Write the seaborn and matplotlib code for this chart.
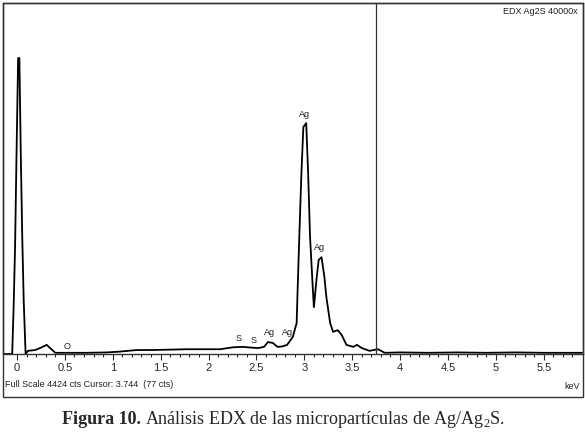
import pandas as pd
import seaborn as sns
import matplotlib.pyplot as plt
from matplotlib.patches import Rectangle

# EDX spectrum (keV, counts)
energy = [-0.14, -0.06, -0.05, -0.035, -0.02, -0.005, 0.012, 0.025, 0.04, 0.055,
          0.07, 0.09, 0.115, 0.19, 0.25, 0.31, 0.36, 0.40, 0.52, 0.73, 0.94,
          1.07, 1.25, 1.42, 1.6, 1.77, 1.95, 2.12, 2.26, 2.36, 2.45, 2.52, 2.58,
          2.62, 2.67, 2.72, 2.77, 2.82, 2.88, 2.92, 2.93, 2.95, 2.97, 2.99, 3.02,
          3.04, 3.06, 3.09, 3.10, 3.13, 3.15, 3.18, 3.21, 3.23, 3.27, 3.30, 3.35,
          3.39, 3.44, 3.51, 3.55, 3.60, 3.68, 3.77, 3.84, 4.0, 4.3, 4.6, 4.9,
          5.2, 5.5, 5.9]
counts = [0, 0, 0, 590, 1350, 2500, 3730, 3730, 2500, 1475,
          680, 0, 40, 50, 80, 115, 60, 15, 15, 15, 20,
          30, 50, 50, 55, 60, 60, 60, 85, 90, 80, 75, 90,
          150, 140, 90, 95, 115, 215, 390, 800, 1560, 2280, 2860, 2910,
          2280, 1475, 800, 590, 970, 1185, 1220, 970, 720, 390, 280, 300,
          240, 115, 90, 115, 75, 40, 60, 15, 20, 15, 20, 15,
          20, 15, 15]

peak_labels = ['O', 'S', 'S', 'Ag', 'Ag', 'Ag', 'Ag']
label_x = [0.52, 2.31, 2.47, 2.64, 2.82, 3.0, 3.16]
label_y = [100, 200, 176, 277, 277, 3024, 1348]

cursor_kev = 3.744
full_scale = 4424
major_ticks = [0, 0.5, 1, 1.5, 2, 2.5, 3, 3.5, 4, 4.5, 5, 5.5]
major_labels = ['0', '0.5', '1', '1.5', '2', '2.5', '3', '3.5', '4', '4.5', '5', '5.5']

df = pd.DataFrame({'keV': energy, 'cts': counts})

sns.set_style('white')
plt.rcParams['font.family'] = ['Liberation Sans', 'DejaVu Sans']

W, H = 585, 436
fig = plt.figure(figsize=(W / 100, H / 100), dpi=100)
ax = fig.add_axes([3 / W, (H - 354) / H, 580 / W, 351 / H])

sns.lineplot(data=df, x='keV', y='cts', ax=ax, color='black', linewidth=1.3,
             estimator=None, sort=False)
ax.axvline(cursor_kev, color='#333333', linewidth=0.9)

for txt, xx, yy in zip(peak_labels, label_x, label_y):
    ax.text(xx, yy, txt, ha='center', va='center', fontsize=6.5, color='#222222')

ax.set_xlim(-0.146, 5.91)
ax.set_ylim(0, full_scale)
ax.set_xticks(major_ticks)
ax.set_xticklabels(major_labels)
ax.set_xticks([i / 10 for i in range(0, 59)], minor=True)
ax.tick_params(axis='x', which='major', direction='out', length=4, width=0.8,
               labelsize=8, pad=2.5, bottom=True)
ax.tick_params(axis='x', which='minor', direction='out', length=2.5, width=0.8,
               bottom=True)
ax.set_yticks([])
ax.set_xlabel('')
ax.set_ylabel('')
for s in ax.spines.values():
    s.set_color('#333333')
    s.set_linewidth(1.0)

# outer frame around plot and footer
fig.patches.append(Rectangle((3 / W, (H - 397) / H), 580 / W, 394 / H,
                             transform=fig.transFigure, fill=False,
                             edgecolor='#333333', linewidth=1.0))

fig.text(578 / W, (H - 12) / H, 'EDX Ag2S 40000x', ha='right', va='center',
         fontsize=6.5, color='#222222')
fig.text(5 / W, (H - 384) / H, 'Full Scale 4424 cts Cursor: 3.744  (77 cts)',
         ha='left', va='center', fontsize=6.5, color='#222222')
fig.text(580 / W, (H - 386) / H, 'keV', ha='right', va='center',
         fontsize=6.5, color='#222222')

# caption: bold part then regular part
cap1 = fig.text(62 / W, (H - 419) / H, 'Figura 10.', ha='left', va='center',
                fontsize=13, fontweight='bold', family='Liberation Serif')
fig.canvas.draw()
bb = cap1.get_window_extent()
fig.text((bb.x1 + 4) / W, (H - 419) / H,
         r'Análisis EDX de las micropartículas de Ag/Ag$_\mathregular{2}$S.',
         ha='left', va='center', fontsize=13, family='Liberation Serif')

fig.savefig('out.png', dpi=100)
